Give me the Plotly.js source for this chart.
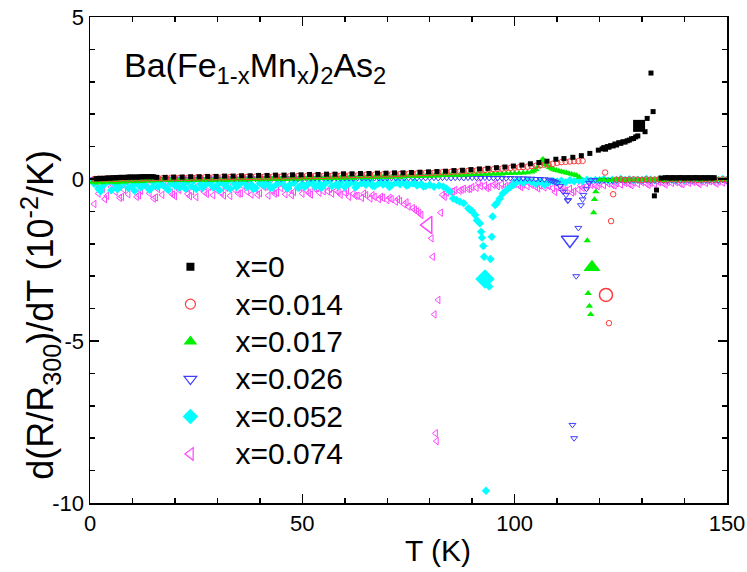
<!DOCTYPE html>
<html><head><meta charset="utf-8">
<script src="https://cdn.plot.ly/plotly-3.0.1.min.js"></script>
<style>body{margin:0;background:#fff}#plot{width:747px;height:572px}</style>
</head><body><div id="plot"></div>
<script>
// ---------- data (T in K, d(R/R300)/dT in 1e-2/K) ----------
const seriesNames = ["x=0","x=0.014","x=0.017","x=0.026","x=0.052","x=0.074"];
const xTickVals = [0, 50, 100, 150];
const xTickText = ["0", "50", "100", "150"];
const yTickVals = [-10, -5, 0, 5];
const yTickText = ["-10", "-5", "0", "5"];

// x = 0
const t_x0 = [1.5,2,2.5,3,3.5,4,4.5,5,5.5,6,6.5,7,7.5,8,8.5,9,9.5,10,10.5,11,11.5,12,12.5,13,13.5,14,14.5,15,
  15.7,17.7,19.7,21.7,23.7,25.7,27.7,29.7,31.7,33.7,35.7,37.7,39.7,41.7,43.7,45.7,47.7,49.7,51.7,53.7,
  55.7,57.7,59.7,61.7,63.7,65.7,67.7,69.7,71.7,73.7,75.7,77.7,79.7,81.7,83.7,85.7,87.7,89.7,91.7,93.7,
  95.7,97.7,99.7,101.7,103.7,105.7,107.6,109.7,111.6,113.7,115.7,117.7,119.7,
  120.6,121.0,121.4,121.8,122.2,122.6,123.2,123.6,124.0,124.5,125.0,125.5,126.0,126.5,127.0,127.5,128.0,128.5,129.0,130.7,
  131.2,132.1,132.6,132.9,133.4,
  134.5,135.5,136,136.5,137,137.5,138,138.5,139,139.5,140,140.5,141,141.5,142,142.5,143,143.5,144,144.5,145,145.5,146,146.5,147];
const v_x0 = [0.01,0.01,0.02,0.02,0.02,0.03,0.03,0.03,0.04,0.04,0.04,0.05,0.05,0.05,0.05,0.06,0.06,0.06,0.06,0.06,0.06,0.07,0.07,0.07,0.07,0.07,0.07,0.07,
  0.05,0.05,0.06,0.06,0.07,0.07,0.08,0.08,0.09,0.09,0.10,0.10,0.11,0.11,0.12,0.12,0.13,0.13,0.14,0.14,
  0.15,0.15,0.16,0.16,0.17,0.17,0.18,0.18,0.19,0.19,0.20,0.21,0.22,0.23,0.24,0.26,0.27,0.29,0.31,0.33,
  0.35,0.37,0.40,0.43,0.47,0.51,0.55,0.61,0.63,0.67,0.72,0.79,0.89,
  0.93,0.97,0.92,1.00,0.98,1.03,1.02,1.08,1.05,1.12,1.10,1.15,1.14,1.18,1.20,1.24,1.25,1.30,1.33,1.46,
  1.87,3.27,2.08,-0.52,-0.34,
  0.03,0.04,0.04,0.03,0.04,0.04,0.03,0.04,0.04,0.04,0.03,0.04,0.04,0.03,0.04,0.04,0.04,0.03,0.04,0.04,0.03,0.04,0.04,0.03,0.04];

// x = 0.014
const t_x014 = [1,2,3,4,5,6,7,8,9,10,11,12,13,14,15,16,17,18,19,
  20,21,22,23,24,25,26,27,28,29,30,31,32,33,34,35,36,37,38,39,40,41,42,43,44,45,46,47,48,49,
  50,51,52,53,54,55,56,57,58,59,60,61,62,63,64,65,66,67,68,69,70,71,72,73,74,75,76,77,78,79,
  80,81,82,83,84,85,86,87,88,89,90,91,92,93,94,95,96,97,98,99,100,101,102,103,104,105,106,107,108,109,
  110,111,112,113,114,115,116,
  121.3,123.2,122.7,122.2,
  124,125,126,127,128,129,130,131,132,133,134,135,136,137,138,139,140,141,142,143,144,145,146,147,148,149,150];
const v_x014 = [0.00,0.01,0.00,0.01,0.01,0.00,0.01,0.02,0.01,0.01,0.02,0.01,0.02,0.02,0.02,0.03,0.02,0.03,0.03,
  0.03,0.03,0.04,0.03,0.04,0.04,0.04,0.05,0.04,0.05,0.05,0.05,0.05,0.06,0.05,0.06,0.06,0.06,0.06,0.07,
  0.06,0.07,0.07,0.07,0.08,0.07,0.08,0.08,0.08,0.09,0.08,0.09,0.09,0.09,0.10,0.09,0.10,0.10,0.11,0.10,
  0.11,0.11,0.12,0.11,0.12,0.13,0.12,0.13,0.13,0.14,0.14,0.14,0.15,0.15,0.16,0.16,0.17,0.17,0.18,0.18,
  0.19,0.19,0.20,0.21,0.21,0.22,0.23,0.23,0.24,0.25,0.26,0.26,0.27,0.28,0.29,0.30,0.31,0.32,0.33,0.34,
  0.35,0.36,0.37,0.38,0.40,0.41,0.42,0.44,0.45,0.47,
  0.50,0.52,0.53,0.54,0.55,0.55,0.56,
  0.20,-0.47,-1.30,-4.45,
  -0.02,-0.01,-0.03,-0.02,-0.01,-0.02,-0.03,-0.01,-0.02,-0.02,-0.01,-0.03,-0.02,-0.01,-0.02,-0.03,-0.02,-0.01,-0.02,-0.03,
  -0.02,-0.01,-0.02,-0.02,-0.03,-0.01,-0.02];

// x = 0.017
const t_x017 = [0.5,1,1.5,2,2.5,3,3.5,4,4.5,5,5.5,6,6.5,7,7.5,8,8.5,9,9.5,10,10.5,11,11.5,12,12.5,13,13.5,14,14.5,15,
  16,17,18,19,20,21,22,23,24,25,26,27,28,29,30,31,32,33,34,35,36,37,38,39,40,41,42,43,44,45,
  46,47,48,49,50,51,52,53,54,55,56,57,58,59,60,61,62,63,64,65,66,67,68,69,70,71,72,73,74,75,
  76,77,78,79,80,81,82,83,84,85,86,87,88,89,90,91,92,93,94,95,96,97,98,99,100,101,102,103,104,
  104.5,105,105.5,106,106.4,106.7,107,107.3,107.7,108.2,108.7,109.2,109.8,110.4,111,111.6,112.2,112.8,113.4,114,114.6,115.2,
  119.1,118.8,118.6,117.1,117.3,117.6,117.9,
  120,121,122,123,124,125,126,127,128,129,130,131,132,133,134,135,136,137,138,139,140,141,142,143,144,145,146,147,148,149,150];
const v_x017 = [-0.10,-0.06,-0.12,-0.08,-0.05,-0.11,-0.07,-0.09,-0.04,-0.10,-0.08,-0.06,-0.11,-0.07,-0.05,-0.09,-0.06,-0.08,-0.04,-0.07,
  -0.05,-0.08,-0.06,-0.04,-0.07,-0.05,-0.03,-0.06,-0.04,-0.05,
  -0.05,-0.03,-0.04,-0.05,-0.03,-0.04,-0.03,-0.05,-0.03,-0.04,-0.03,-0.04,-0.02,-0.04,-0.03,-0.02,-0.04,-0.03,-0.02,-0.03,
  -0.02,-0.03,-0.01,-0.02,-0.02,-0.01,-0.02,0.00,-0.01,0.00,-0.01,0.00,0.01,0.00,0.01,0.01,0.02,0.01,0.02,0.02,
  0.02,0.03,0.02,0.03,0.03,0.04,0.03,0.04,0.04,0.05,0.04,0.05,0.05,0.06,0.05,0.06,0.07,0.06,0.07,0.08,
  0.07,0.08,0.08,0.09,0.09,0.10,0.10,0.11,0.11,0.12,0.12,0.12,0.13,0.13,0.14,0.14,0.14,0.15,0.15,0.16,
  0.16,0.16,0.17,0.17,0.18,0.18,0.19,0.20,0.22,
  0.25,0.30,0.38,0.48,0.58,0.61,0.52,0.45,0.41,0.36,0.32,0.29,0.27,0.25,0.23,0.21,0.19,0.17,0.15,0.13,0.11,0.06,
  -0.39,-0.63,-1.04,-1.90,-3.53,-3.92,-4.18,
  -0.03,-0.02,-0.04,-0.03,-0.02,-0.03,-0.04,-0.02,-0.03,-0.03,-0.02,-0.04,-0.03,-0.02,-0.03,-0.04,-0.02,-0.03,-0.03,-0.02,
  -0.04,-0.03,-0.02,-0.03,-0.04,-0.02,-0.03,-0.03,-0.02,-0.04,-0.03];

// x = 0.026
const t_x026 = [1,2,3,4,5,6,7,8,9,10,11,12,13,14,15,16,17,18,19,20,21,22,23,24,25,26,27,28,29,30,
  31,32,33,34,35,36,37,38,39,40,41,42,43,44,45,46,47,48,49,50,51,52,53,54,55,56,57,58,59,60,
  61,62,63,64,65,66,67,68,69,70,71,72,73,74,75,76,77,78,79,80,81,82,83,84,85,86,87,88,89,90,
  91,92,93,94,95,96,97,98,99,100,101,102,103,104,105,106,107,
  108,108.5,109,109.5,110,110.7,111.4,112.1,112.5,112.6,115.0,114.5,113.6,114.0,115.6,116.0,116.2,116.9,117.5,
  118,119,120,121,122,123,124,125,126,127,128,129,130,131,132,133,134,135,136,137,138,139,140,141,142,143,144,145,146,147,148,149,150];
const v_x026 = [0.00,-0.01,0.00,0.01,-0.01,0.00,0.00,0.01,-0.01,0.00,0.00,0.01,0.00,-0.01,0.00,0.01,0.00,0.00,0.01,0.00,
  0.01,0.00,0.01,0.00,0.01,0.01,0.00,0.01,0.01,0.00,0.01,0.01,0.02,0.01,0.01,0.02,0.01,0.02,0.01,0.02,
  0.02,0.01,0.02,0.02,0.01,0.02,0.02,0.02,0.01,0.02,0.02,0.02,0.03,0.02,0.02,0.03,0.02,0.03,0.02,0.03,
  0.03,0.02,0.03,0.03,0.03,0.02,0.03,0.03,0.03,0.03,0.03,0.03,0.04,0.03,0.03,0.04,0.03,0.04,0.03,0.04,
  0.04,0.03,0.04,0.04,0.03,0.04,0.04,0.03,0.04,0.04,0.04,0.03,0.04,0.03,0.03,0.03,0.03,0.02,0.03,0.02,
  0.02,0.02,0.01,0.01,0.00,0.00,-0.01,
  -0.02,-0.04,-0.06,-0.09,-0.13,-0.22,-0.39,-0.49,-0.67,-0.65,-1.51,-3.00,-7.59,-8.00,-0.81,-0.63,-0.49,-0.30,-0.12,
  -0.04,-0.03,-0.05,-0.04,-0.03,-0.05,-0.04,-0.03,-0.04,-0.05,-0.03,-0.04,-0.04,-0.03,-0.05,-0.04,-0.03,-0.04,-0.05,-0.03,
  -0.04,-0.04,-0.03,-0.05,-0.04,-0.03,-0.04,-0.05,-0.03,-0.04,-0.04,-0.03,-0.04];

// x = 0.052
const t_x052 = [1,2,3,4,5,6,7,8,9,10,11,12,13,14,15,16,17,18,19,20,21,22,23,24,25,26,27,28,29,30,
  31,32,33,34,35,36,37,38,39,40,41,42,43,44,45,46,47,48,49,50,51,52,53,54,55,56,57,58,59,60,
  61,62,63,64,65,66,67,68,69,70,71,72,73,74,75,76,77,78,79,80,81,
  0.5,2.5,4.5,6.5,8.5,10.5,12.5,14.5,16.5,18.5,20.5,22.5,24.5,26.5,28.5,30.5,32.5,34.5,36.5,38.5,
  40.5,42.5,44.5,46.5,48.5,50.5,52.5,54.5,56.5,58.5,60.5,62.5,64.5,66.5,68.5,70.5,72.5,74.5,76.5,78.5,
  82.2,83.2,84.0,84.8,85.5,86.3,87.1,88.0,89.1,89.5,89.9,90.7,91.1,91.8,92.1,92.3,92.6,92.8,93.25,94.0,
  94.3,94.6,94.8,95.4,95.8,96.5,97.2,98.1,99.0,99.8,
  100,101,102,103,104,105,106,107,108,109,110,111,112,113,114,115,116,117,118,119,120,121,122,123,124,125,
  126,127,128,129,130,131,132,133,134,135,136,137,138,139,140,141,142,143,144,145,146,147,148,149,150];
const v_x052 = [-0.15,-0.30,-0.22,-0.10,-0.35,-0.18,-0.25,-0.12,-0.28,-0.20,-0.14,-0.26,-0.19,-0.33,-0.11,-0.24,-0.17,-0.29,-0.13,-0.21,
  -0.27,-0.15,-0.09,-0.23,-0.31,-0.16,-0.20,-0.12,-0.26,-0.18,-0.10,-0.22,-0.30,-0.14,-0.19,-0.08,-0.25,-0.17,-0.28,-0.13,
  -0.21,-0.11,-0.26,-0.16,-0.09,-0.23,-0.18,-0.12,-0.27,-0.15,-0.20,-0.10,-0.24,-0.14,-0.19,-0.07,-0.22,-0.16,-0.11,-0.25,
  -0.15,-0.09,-0.20,-0.13,-0.18,-0.08,-0.22,-0.14,-0.17,-0.11,-0.19,-0.12,-0.16,-0.10,-0.18,-0.13,-0.20,-0.15,-0.22,-0.18,-0.24,
  -0.05,-0.38,-0.08,-0.32,-0.06,-0.36,-0.10,-0.28,-0.04,-0.33,-0.07,-0.30,-0.05,-0.27,-0.09,-0.35,-0.06,-0.25,-0.08,-0.31,
  -0.04,-0.26,-0.07,-0.29,-0.05,-0.24,-0.06,-0.28,-0.03,-0.22,-0.05,-0.26,-0.04,-0.21,-0.06,-0.25,-0.08,-0.20,-0.10,-0.23,
  -0.20,-0.24,-0.30,-0.39,-0.60,-0.65,-0.70,-0.75,-0.90,-0.96,-0.98,-1.11,-1.27,-1.37,-1.63,-1.81,-2.07,-2.40,-9.62,-3.32,
  -2.47,-1.78,-1.16,-0.80,-0.75,-0.60,-0.45,-0.34,-0.25,-0.18,
  -0.10,-0.06,-0.12,-0.04,-0.09,-0.15,-0.08,-0.18,-0.11,-0.06,-0.08,-0.05,-0.10,-0.04,-0.07,-0.03,-0.06,-0.02,-0.05,-0.03,
  -0.04,-0.01,-0.05,-0.02,-0.04,0.00,-0.03,-0.01,-0.04,-0.02,-0.03,0.00,-0.02,-0.04,-0.01,-0.03,0.00,-0.02,-0.04,-0.01,
  -0.03,0.00,-0.02,-0.01,-0.03,0.00,-0.02,-0.01,-0.03,0.00,-0.02];

// x = 0.074
const t_x074 = [1,2,3,4,5,6,7,8,9,10,11,12,13,14,15,16,17,18,19,20,21,22,23,24,25,26,27,28,29,30,
  31,32,33,34,35,36,37,38,39,40,41,42,43,44,45,46,47,48,49,50,51,52,53,54,55,
  1.5,3.5,5.5,7.5,9.5,11.5,13.5,15.5,17.5,19.5,21.5,23.5,25.5,27.5,29.5,31.5,33.5,35.5,37.5,39.5,41.5,43.5,45.5,47.5,49.5,51.5,53.5,
  56,57,58,59,60,61,62,63,64,65,66,67,68,69,70,71,72,73,74,75,76,77,78,
  56.5,58.5,60.5,62.5,64.5,66.5,68.5,70.5,72.5,74.5,76.5,77.5,
  82.6,80.4,80.7,82.0,81.1,81.4,81.6,
  83,84,85,86,87,88,89,90,91,92,93,94,95,96,97,98,99,100,101,102,103,104,105,106,107,108,109,110,111,112,
  113,114,115,116,117,118,119,120,121,122,123,124,125,126,127,128,129,130,131,132,133,134,135,136,137,138,139,140,141,142,
  143,144,145,146,147,148,149,150,
  83.5,85.5,87.5,89.5,91.5,93.5,95.5,97.5,99.5,101.5,103.5,105.5,107.5,109.5,111.5,113.5,115.5,117.5,119.5,121.5,
  123.5,125.5,127.5,129.5,131.5,133.5,135.5,137.5,139.5,141.5,143.5,145.5,147.5,149.5];
const v_x074 = [-0.77,-0.45,-0.30,-0.52,-0.25,-0.40,-0.58,-0.33,-0.47,-0.28,-0.55,-0.36,-0.22,-0.44,-0.60,-0.31,-0.49,-0.26,-0.42,-0.53,
  -0.34,-0.20,-0.46,-0.38,-0.56,-0.29,-0.41,-0.24,-0.50,-0.35,-0.43,-0.27,-0.52,-0.32,-0.45,-0.21,-0.39,-0.48,-0.30,-0.44,
  -0.25,-0.51,-0.36,-0.42,-0.28,-0.47,-0.33,-0.40,-0.26,-0.45,-0.35,-0.48,-0.30,-0.42,-0.38,
  -0.15,-0.62,-0.20,-0.55,-0.18,-0.50,-0.14,-0.57,-0.22,-0.48,-0.16,-0.53,-0.19,-0.46,-0.13,-0.51,-0.21,-0.44,-0.17,-0.49,
  -0.23,-0.45,-0.20,-0.50,-0.26,-0.43,-0.28,
  -0.38,-0.45,-0.36,-0.48,-0.42,-0.55,-0.45,-0.52,-0.58,-0.50,-0.60,-0.55,-0.62,-0.58,-0.65,-0.62,-0.70,-0.68,-0.78,-0.85,
  -0.90,-1.00,-1.11,
  -0.30,-0.40,-0.35,-0.52,-0.45,-0.50,-0.55,-0.58,-0.62,-0.72,-0.95,-1.05,
  -1.04,-1.83,-2.40,-3.73,-4.18,-7.85,-8.09,
  -0.49,-0.42,-0.40,-0.34,-0.36,-0.30,-0.31,-0.25,-0.27,-0.22,-0.20,-0.24,-0.18,-0.22,-0.16,-0.21,-0.19,-0.15,-0.20,-0.17,
  -0.22,-0.18,-0.24,-0.20,-0.26,-0.22,-0.28,-0.25,-0.32,-0.36,-0.30,-0.38,-0.33,-0.27,-0.22,-0.18,-0.20,-0.15,-0.19,-0.14,
  -0.18,-0.13,-0.17,-0.12,-0.16,-0.11,-0.15,-0.10,-0.14,-0.12,-0.15,-0.10,-0.13,-0.09,-0.12,-0.10,-0.14,-0.08,-0.12,-0.09,
  -0.11,-0.08,-0.12,-0.07,-0.10,-0.08,-0.11,-0.07,
  -0.55,-0.38,-0.33,-0.30,-0.12,-0.28,-0.14,-0.26,-0.12,-0.25,-0.13,-0.29,-0.18,-0.40,-0.25,-0.42,-0.20,-0.10,-0.22,-0.08,
  -0.20,-0.07,-0.19,-0.06,-0.18,-0.05,-0.17,-0.05,-0.16,-0.04,-0.15,-0.05,-0.14,-0.04];

// enlarged label markers drawn on each curve
const labelT = [129.3, 121.5, 118.2, 113.0, 93.0, 79.6];
const labelV = [1.64, -3.58, -2.72, -1.88, -3.09, -1.42];

// ---------- styles ----------
const colors  = ["#000000", "#ff3b3b", "#00f000", "#3d3dff", "#00ffff", "#ff44ff"];
const symbols = ["square", "circle-open", "triangle-up", "triangle-down-open", "diamond", "triangle-left-open"];
const smallSize = [5, 5.5, 6.5, 6, 6.5, 6.5];
const bigSize   = [12, 13, 15, 15, 15, 15];
const legSize   = [8, 10, 12, 11, 12, 11];

const T = [t_x0, t_x014, t_x017, t_x026, t_x052, t_x074];
const V = [v_x0, v_x014, v_x017, v_x026, v_x052, v_x074];

const traces = [];
for (let i = 5; i >= 0; i--) {
  const open = symbols[i].indexOf("open") >= 0;
  traces.push({
    type: "scatter", mode: "markers", x: T[i], y: V[i], showlegend: false, hoverinfo: "skip",
    marker: {symbol: symbols[i], size: smallSize[i], color: colors[i],
             line: {width: open ? 1 : 0, color: colors[i]}}
  });
}
for (let i = 5; i >= 0; i--) {
  const open = symbols[i].indexOf("open") >= 0;
  traces.push({
    type: "scatter", mode: "markers", x: [labelT[i]], y: [labelV[i]], showlegend: false, hoverinfo: "skip",
    marker: {symbol: symbols[i], size: bigSize[i], color: colors[i],
             line: {width: open ? 1.5 : 0, color: colors[i]}}
  });
}
for (let i = 0; i < 6; i++) {
  const open = symbols[i].indexOf("open") >= 0;
  traces.push({
    type: "scatter", mode: "markers", x: [null], y: [null],
    name: '<span style="font-size:30px">' + seriesNames[i] + '</span>', showlegend: true,
    marker: {symbol: symbols[i], size: legSize[i], color: colors[i],
             line: {width: open ? 1.2 : 0, color: colors[i]}}
  });
}

const axisCommon = {
  ticks: "inside", ticklen: 9, tickwidth: 1.5, tickcolor: "#000",
  showline: true, linecolor: "#000", linewidth: 1.5, mirror: "allticks",
  showgrid: false, zeroline: false, tickfont: {size: 22, color: "#000"}, tickmode: "array"
};
const layout = {
  width: 747, height: 572,
  margin: {l: 90, r: 20, t: 17, b: 69},
  paper_bgcolor: "#fff", plot_bgcolor: "#fff",
  font: {family: "Liberation Sans, Arial, Helvetica, sans-serif", color: "#000"},
  xaxis: Object.assign({}, axisCommon, {range: [0, 150], tickvals: xTickVals, ticktext: xTickText,
    minor: {tickmode: "linear", tick0: 0, dtick: 10, ticks: "inside", ticklen: 5, tickwidth: 1.5, tickcolor: "#000", showgrid: false}}),
  yaxis: Object.assign({}, axisCommon, {range: [-10, 5], tickvals: yTickVals, ticktext: yTickText,
    minor: {tickmode: "linear", tick0: 0, dtick: 1, ticks: "inside", ticklen: 5, tickwidth: 1.5, tickcolor: "#000", showgrid: false}}),
  showlegend: true,
  legend: {x: 0.087, y: 0.535, xanchor: "left", yanchor: "top", bgcolor: "rgba(0,0,0,0)",
           font: {size: 26.5, color: "#000"}, itemwidth: 80, tracegroupgap: 0},
  annotations: [
    {text: "Ba(Fe<sub>1-x</sub>Mn<sub>x</sub>)<sub>2</sub>As<sub>2</sub>", xref: "paper", yref: "paper",
     x: 0.05, y: 0.897, xanchor: "left", yanchor: "middle", showarrow: false, font: {size: 34}},
    {text: "T (K)", xref: "paper", yref: "paper", x: 0.547, y: -0.097, xanchor: "center", yanchor: "middle",
     showarrow: false, font: {size: 30}},
    {text: "d(R/R<sub>300</sub>)/dT (10<sup>-2</sup>/K)", xref: "paper", yref: "paper", x: -0.077, y: 0.387,
     xanchor: "center", yanchor: "middle", textangle: -90, showarrow: false, font: {size: 36}}
  ]
};
Plotly.newPlot("plot", traces, layout, {displayModeBar: false, staticPlot: true});
</script></body></html>
